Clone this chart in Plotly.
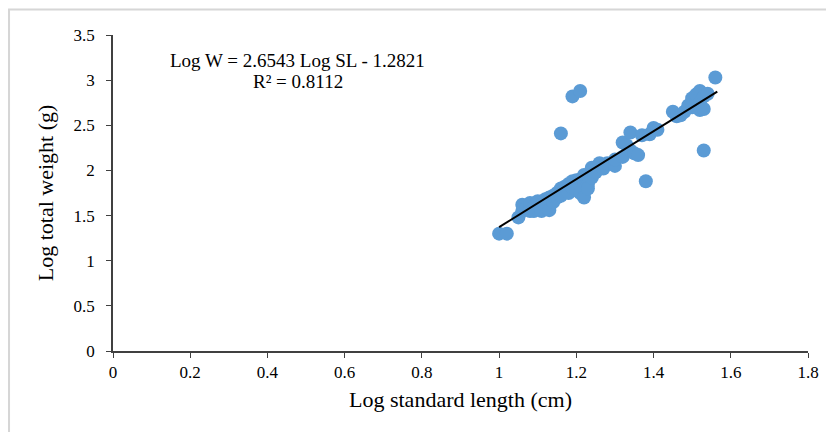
import plotly.graph_objects as go

log_sl = [1.00, 1.02,
          1.05, 1.06, 1.06, 1.07, 1.08, 1.08, 1.09, 1.09, 1.10, 1.10, 1.11, 1.11, 1.12, 1.12,
          1.13, 1.13, 1.14, 1.14, 1.15, 1.15, 1.16, 1.16, 1.17, 1.17, 1.18, 1.18, 1.19, 1.19,
          1.20, 1.20, 1.21, 1.21, 1.22, 1.22, 1.22, 1.23, 1.23, 1.24, 1.24, 1.25, 1.26, 1.27,
          1.28, 1.30, 1.30, 1.32, 1.32, 1.33, 1.34, 1.34, 1.35, 1.36, 1.37, 1.39, 1.40, 1.41,
          1.45, 1.46, 1.47, 1.48, 1.49, 1.50, 1.51, 1.52, 1.50, 1.52, 1.53, 1.54, 1.52, 1.53,
          1.53, 1.56,
          1.16, 1.19, 1.21, 1.38]
log_w = [1.30, 1.30,
         1.48, 1.55, 1.62, 1.58, 1.64, 1.55, 1.60, 1.55, 1.58, 1.66, 1.62, 1.55, 1.68, 1.60,
         1.56, 1.70, 1.65, 1.72, 1.75, 1.70, 1.80, 1.72, 1.78, 1.82, 1.75, 1.85, 1.80, 1.88,
         1.89, 1.78, 1.90, 1.75, 1.88, 1.95, 1.70, 1.85, 1.80, 1.92, 2.03, 1.98, 2.08, 2.02,
         2.08, 2.05, 2.12, 2.15, 2.31, 2.28, 2.42, 2.22, 2.19, 2.17, 2.39, 2.40, 2.47, 2.45,
         2.65, 2.60, 2.61, 2.65, 2.72, 2.80, 2.84, 2.88, 2.70, 2.75, 2.82, 2.85, 2.67, 2.68,
         2.22, 3.03,
         2.41, 2.82, 2.88, 1.88]

slope = 2.6543
intercept = -1.2821
fit_x = [1.00, 1.565]
fit_y = [slope * v + intercept for v in fit_x]

x_ticks = [0, 0.2, 0.4, 0.6, 0.8, 1, 1.2, 1.4, 1.6, 1.8]
x_tick_labels = ["0", "0.2", "0.4", "0.6", "0.8", "1", "1.2", "1.4", "1.6", "1.8"]
y_ticks = [0, 0.5, 1, 1.5, 2, 2.5, 3, 3.5]
y_tick_labels = ["0", "0.5", "1", "1.5", "2", "2.5", "3", "3.5"]

equation_text = "Log W = 2.6543 Log SL - 1.2821"
r2_text = "R² = 0.8112"

font_family = "Liberation Serif, Times New Roman, serif"

fig = go.Figure()
fig.add_trace(go.Scatter(
    x=log_sl, y=log_w, mode="markers",
    marker=dict(color="#5B9BD5", size=14, line=dict(width=0)),
    showlegend=False, cliponaxis=False,
))
fig.add_trace(go.Scatter(
    x=fit_x, y=fit_y, mode="lines",
    line=dict(color="black", width=2),
    showlegend=False,
))

fig.add_annotation(
    x=0.4766, y=3.223, xref="x", yref="y", text=equation_text,
    showarrow=False, font=dict(family=font_family, size=19, color="black"),
)
fig.add_annotation(
    x=0.479, y=2.99, xref="x", yref="y", text=r2_text,
    showarrow=False, font=dict(family=font_family, size=19, color="black"),
)

# thin outer frame (top and left edges visible)
fig.add_shape(type="rect", xref="paper", yref="paper",
              x0=-0.1496, y0=-0.4, x1=1.2, y1=1.0807,
              line=dict(color="#d6d6d6", width=2), layer="below")

fig.update_layout(
    width=826, height=424,
    margin=dict(l=105, r=26, t=27, b=81),
    paper_bgcolor="white", plot_bgcolor="white",
    font=dict(family=font_family, color="black"),
    xaxis=dict(
        range=[0, 1.8], tickvals=x_ticks, ticktext=x_tick_labels,
        showgrid=False, zeroline=False, showline=True, linecolor="#404040", linewidth=1.5,
        ticks="outside", ticklen=5, tickcolor="#404040",
        tickfont=dict(family=font_family, size=17),
        title=dict(text="Log standard length (cm)", font=dict(family=font_family, size=22), standoff=10),
    ),
    yaxis=dict(
        range=[0, 3.5], tickvals=y_ticks, ticktext=y_tick_labels,
        showgrid=False, zeroline=False, showline=True, linecolor="#404040", linewidth=1.5,
        ticks="outside", ticklen=5, tickcolor="#404040", ticklabelstandoff=8,
        tickfont=dict(family=font_family, size=17),
        title=dict(text="Log total weight (g)", font=dict(family=font_family, size=22), standoff=14),
    ),
)

fig.write_html("out.html")
